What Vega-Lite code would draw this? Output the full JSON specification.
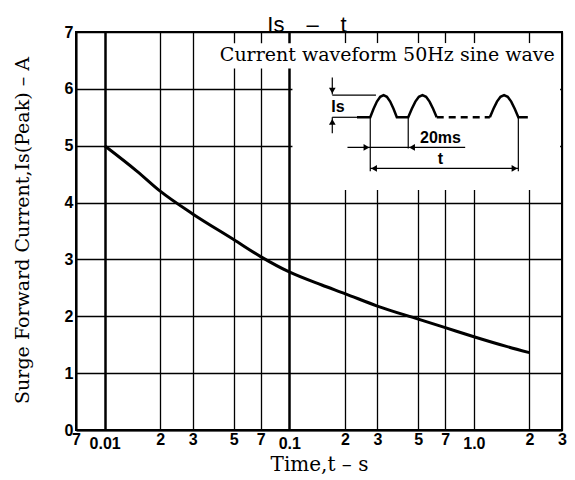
{
  "$schema": "https://vega.github.io/schema/vega-lite/v6.json",
  "width": 486,
  "height": 398,
  "autosize": {"type": "none"},
  "padding": {"left": 76, "top": 32, "right": 13, "bottom": 50},
  "background": "white",
  "title": {"text": "Is\u2003–\u2003t", "font": "Liberation Sans", "fontSize": 22, "fontWeight": "normal", "color": "black", "baseline": "alphabetic", "offset": -4, "dx": -12, "dy": 26},
  "config": {"view": {"stroke": "black", "strokeWidth": 2}},
  "datasets": {
    "curve": [
      {"t": 0.01, "i": 5.0}, {"t": 0.015, "i": 4.55}, {"t": 0.02, "i": 4.2}, {"t": 0.03, "i": 3.8},
      {"t": 0.05, "i": 3.35}, {"t": 0.07, "i": 3.05}, {"t": 0.1, "i": 2.78}, {"t": 0.15, "i": 2.55},
      {"t": 0.2, "i": 2.4}, {"t": 0.3, "i": 2.18}, {"t": 0.5, "i": 1.95}, {"t": 0.7, "i": 1.8},
      {"t": 1.0, "i": 1.64}, {"t": 1.5, "i": 1.47}, {"t": 2.0, "i": 1.36}
    ],
    "boxes": [
      {"w": -41, "w2": 100, "a": 4.22, "a2": 6.8},
      {"w": -82, "w2": 100, "a": 6.36, "a2": 6.8}
    ],
    "wave": [
      {"w": -7, "a": 5.5}, {"w": 0, "a": 5.5}, {"w": 1.75, "a": 5.649}, {"w": 3.5, "a": 5.776}, {"w": 5.25, "a": 5.86},
      {"w": 7, "a": 5.89}, {"w": 8.75, "a": 5.86}, {"w": 10.5, "a": 5.776}, {"w": 12.25, "a": 5.649}, {"w": 14, "a": 5.5},
      {"w": 20, "a": 5.5}, {"w": 21.9, "a": 5.649}, {"w": 23.75, "a": 5.776}, {"w": 25.6, "a": 5.86}, {"w": 27.5, "a": 5.89},
      {"w": 29.4, "a": 5.86}, {"w": 31.25, "a": 5.776}, {"w": 33.1, "a": 5.649}, {"w": 35, "a": 5.5}
    ],
    "wave3": [
      {"w": 63, "a": 5.5}, {"w": 64.9, "a": 5.649}, {"w": 66.75, "a": 5.776}, {"w": 68.6, "a": 5.86}, {"w": 70.5, "a": 5.89},
      {"w": 72.4, "a": 5.86}, {"w": 74.25, "a": 5.776}, {"w": 76.1, "a": 5.649}, {"w": 78, "a": 5.5}, {"w": 83, "a": 5.5}
    ],
    "dash": [{"w": 35, "a": 5.5}, {"w": 63, "a": 5.5}],
    "rules": [
      {"w": -20, "w2": 3, "a": 5.89, "a2": 5.89},
      {"w": -20, "w2": -7, "a": 5.5, "a2": 5.5},
      {"w": -20, "w2": -20, "a": 6.2, "a2": 5.9},
      {"w": -20, "w2": -20, "a": 5.22, "a2": 5.5},
      {"w": 0, "w2": 0, "a": 5.5, "a2": 4.55},
      {"w": 20, "w2": 20, "a": 5.5, "a2": 4.95},
      {"w": 78, "w2": 78, "a": 5.5, "a2": 4.55},
      {"w": -12, "w2": 50, "a": 4.97, "a2": 4.97},
      {"w": 0, "w2": 78, "a": 4.6, "a2": 4.6}
    ],
    "arrows": [
      {"w": -20, "a": 5.97, "shape": "triangle-down"},
      {"w": -20, "a": 5.42, "shape": "triangle-up"},
      {"w": -2, "a": 4.97, "shape": "triangle-right"},
      {"w": 22, "a": 4.97, "shape": "triangle-left"},
      {"w": 2, "a": 4.6, "shape": "triangle-left"},
      {"w": 76, "a": 4.6, "shape": "triangle-right"}
    ],
    "labels": [
      {"w": 37, "a": 5.14, "label": "20ms"},
      {"w": 37, "a": 4.76, "label": "t"},
      {"w": -17, "a": 5.68, "label": "Is"}
    ],
    "caption": [{"w": 9, "a": 6.59, "label": "Current waveform 50Hz sine wave"}]
  },
  "layer": [
    {
      "data": {"name": "curve"},
      "mark": {"type": "line", "interpolate": "monotone", "color": "black", "strokeWidth": 3},
      "encoding": {
        "x": {
          "field": "t", "type": "quantitative",
          "scale": {"type": "log", "domain": [0.007, 3]},
          "axis": {
            "values": [0.007, 0.01, 0.02, 0.03, 0.05, 0.07, 0.1, 0.2, 0.3, 0.5, 0.7, 1, 2, 3],
            "labelExpr": "datum.value==0.01?'0.01':datum.value==0.1?'0.1':datum.value==1?'1.0':datum.value<0.01?'7':datum.value<0.1?format(datum.value*100,'.0f'):datum.value<1?format(datum.value*10,'.0f'):format(datum.value,'.0f')",
            "grid": true, "gridColor": "black", "gridOpacity": 1,
            "gridWidth": {"condition": {"test": "datum.value == 0.01 || datum.value == 0.1", "value": 2.5}, "value": 1.3},
            "ticks": false, "domain": true, "domainColor": "black", "domainWidth": 2,
            "labelFont": "Liberation Sans", "labelFontWeight": "bold", "labelFontSize": 16, "labelColor": "black",
            "labelPadding": {"condition": {"test": "datum.value == 0.01 || datum.value == 0.1 || datum.value == 1", "value": 5}, "value": 1},
            "labelFlush": false, "labelOverlap": false,
            "titleFont": "DejaVu Serif", "titleFontSize": 20, "titleFontWeight": "normal", "titleColor": "black", "titlePadding": 3
          },
          "title": "Time,t – s"
        },
        "y": {
          "field": "i", "type": "quantitative",
          "scale": {"domain": [0, 7]},
          "axis": {
            "values": [0, 1, 2, 3, 4, 5, 6, 7],
            "grid": true, "gridColor": "black", "gridOpacity": 1, "gridWidth": 1.3,
            "ticks": false, "domain": true, "domainColor": "black", "domainWidth": 2,
            "labelFont": "Liberation Sans", "labelFontWeight": "bold", "labelFontSize": 16, "labelColor": "black",
            "labelPadding": 3, "labelFlush": false,
            "titleFont": "DejaVu Serif", "titleFontSize": 19, "titleFontWeight": "normal", "titleColor": "black",
            "titleX": -54, "titleY": 198, "titleBaseline": "middle", "titleAlign": "center", "titleAngle": -90
          },
          "title": "Surge Forward Current,Is(Peak) – A"
        }
      }
    },
    {
      "encoding": {
        "x": {"field": "w", "type": "quantitative", "scale": {"domain": [-155, 101], "nice": false, "zero": false}, "axis": null},
        "y": {"field": "a", "type": "quantitative", "scale": {"domain": [0, 7], "nice": false}, "axis": null}
      },
      "layer": [
        {
          "data": {"name": "boxes"},
          "mark": {"type": "rect", "color": "white", "opacity": 1},
          "encoding": {"x2": {"field": "w2"}, "y2": {"field": "a2"}}
        },
        {
          "data": {"name": "caption"},
          "mark": {"type": "text", "font": "DejaVu Serif", "fontSize": 19, "color": "black", "align": "center", "baseline": "middle"},
          "encoding": {"text": {"field": "label"}}
        },
        {
          "data": {"name": "rules"},
          "mark": {"type": "rule", "color": "black", "strokeWidth": 1.2},
          "encoding": {"x2": {"field": "w2"}, "y2": {"field": "a2"}}
        },
        {
          "data": {"name": "wave"},
          "mark": {"type": "line", "color": "black", "strokeWidth": 2.5},
          "encoding": {}
        },
        {
          "data": {"name": "wave3"},
          "mark": {"type": "line", "color": "black", "strokeWidth": 2.5},
          "encoding": {}
        },
        {
          "data": {"name": "dash"},
          "mark": {"type": "line", "color": "black", "strokeWidth": 2.5, "strokeDash": [7, 5]},
          "encoding": {}
        },
        {
          "data": {"name": "arrows"},
          "mark": {"type": "point", "filled": true, "color": "black", "opacity": 1, "size": 45},
          "encoding": {"shape": {"field": "shape", "type": "nominal", "scale": null}}
        },
        {
          "data": {"name": "labels"},
          "mark": {"type": "text", "font": "Liberation Sans", "fontWeight": "bold", "fontSize": 16, "color": "black", "align": "center", "baseline": "middle"},
          "encoding": {"text": {"field": "label"}}
        }
      ]
    }
  ],
  "resolve": {"scale": {"x": "independent", "y": "independent"}}
}
